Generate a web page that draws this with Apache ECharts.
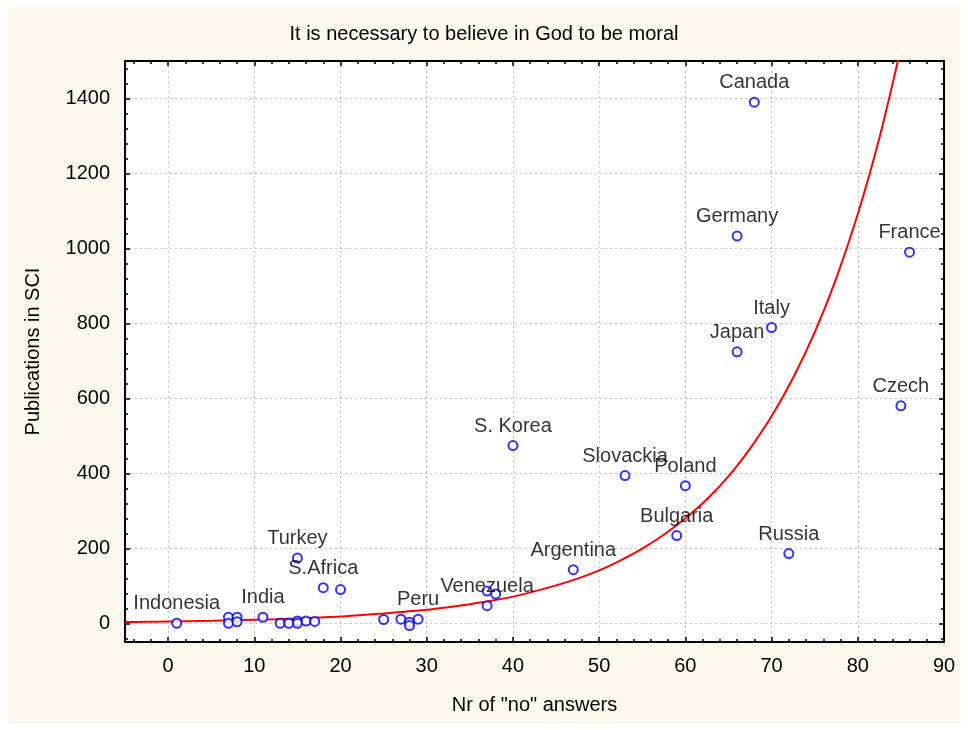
<!DOCTYPE html>
<html>
<head>
<meta charset="utf-8">
<script src="https://cdn.jsdelivr.net/npm/echarts@6/dist/echarts.min.js"></script>
<style>
  html, body { margin: 0; padding: 0; background: #ffffff; }
  #chart { width: 968px; height: 730px; }
</style>
</head>
<body>
<div id="chart"></div>
<script>
// ---- data ----
const chartTitle = 'It is necessary to believe in God to be moral';
const xAxisTitle = 'Nr of "no" answers';
const yAxisTitle = 'Publications in SCI';

const countryLabels = ['Indonesia', '', '', '', '', 'India', '', '', '', '', '', '', 'Turkey', 'S.Africa', '', '', '', '', '', 'Peru', '', '', 'Venezuela', 'Argentina', 'S. Korea', 'Slovackia', 'Poland', 'Bulgaria', 'Russia', 'Japan', 'Germany', 'Italy', 'Canada', 'France', 'Czech'];
const noAnswers = [1, 7, 7, 8, 8, 11, 13, 14, 15, 15, 16, 17, 15, 18, 20, 25, 27, 28, 28, 29, 37, 38, 37, 47, 40, 53, 60, 59, 72, 66, 66, 70, 68, 86, 85];
const publications = [0, 16, 0, 16, 4, 16, 0, 0, 6, 0, 6, 5, 174, 95, 90, 10, 11, 3, -6, 11, 86, 78, 47, 143, 474, 394, 367, 234, 186, 724, 1033, 789, 1390, 990, 580];

// fitted (exponential) curve, every 2.5 units
const fitX = [-5, -2.5, 0, 2.5, 5, 7.5, 10, 12.5, 15, 17.5, 20, 22.5, 25, 27.5, 30, 32.5, 35, 37.5, 40, 42.5, 45, 47.5, 50, 52.5, 55, 57.5, 60, 62.5, 65, 67.5, 70, 72.5, 75, 77.5, 80, 82.5, 85];
const fitY = [3.3, 3.9, 4.6, 5.5, 6.5, 7.7, 9.2, 11, 13, 15.4, 18, 22, 26, 31, 36, 43, 51, 60, 71, 85, 101, 119, 141, 168, 199, 236, 280, 331, 392, 466, 552, 655, 776, 920, 1092, 1294, 1535];

const xRange = [-5, 90];
const yRange = [-50, 1500];
const xTickLabels = [0, 10, 20, 30, 40, 50, 60, 70, 80, 90];
const yTickLabels = [0, 200, 400, 600, 800, 1000, 1200, 1400];

// ---- build ----
const pts = noAnswers.map((x, i) => ({ value: [x, publications[i]], name: countryLabels[i] }));
const curve = fitX.map((x, i) => [x, fitY[i]]);

const FONT = 'Liberation Sans, Arial, sans-serif';
const FS = 20;

function baseAxis(extra) {
  return Object.assign({
    type: 'value',
    axisLine: { show: true, onZero: false, lineStyle: { color: '#000', width: 2 } },
    axisTick: { show: true, inside: true, length: 5, lineStyle: { color: '#000', width: 1.5 } },
    minorTick: { show: true, splitNumber: 5, length: 3, lineStyle: { color: '#000', width: 1.5 } },
    splitLine: { show: false },
    axisLabel: { show: false }
  }, extra);
}

const chart = echarts.init(document.getElementById('chart'), null, { renderer: 'canvas' });
chart.setOption({
  backgroundColor: '#ffffff',
  animation: false,
  graphic: [{
    type: 'rect', z: -10, silent: true,
    shape: { x: 8, y: 7, width: 953, height: 717 },
    style: { fill: '#fcf8ed' }
  }],
  title: {
    text: chartTitle, left: 'center', top: 24, padding: 0,
    textStyle: { fontFamily: FONT, fontSize: FS, fontWeight: 'normal', color: '#000' }
  },
  grid: { left: 125, right: 24, top: 61, bottom: 88, show: true, backgroundColor: '#ffffff', borderWidth: 0 },
  xAxis: [
    baseAxis({
      position: 'bottom', min: xRange[0], max: xRange[1], splitNumber: 10,
      name: xAxisTitle, nameLocation: 'middle', nameGap: 53,
      nameTextStyle: { fontFamily: FONT, fontSize: FS, color: '#000' },
      axisLabel: {
        show: true, margin: 14, fontFamily: FONT, fontSize: FS, color: '#000',
        formatter: v => (xTickLabels.indexOf(v) >= 0 ? String(v) : '')
      },
      splitLine: { show: true, lineStyle: { color: '#c4c4c4', width: 1, type: [2, 3] } }
    }),
    baseAxis({ position: 'top', min: xRange[0], max: xRange[1], splitNumber: 10 })
  ],
  yAxis: [
    baseAxis({
      position: 'left', min: yRange[0], max: yRange[1], splitNumber: 8,
      name: yAxisTitle, nameLocation: 'middle', nameGap: 82,
      nameTextStyle: { fontFamily: FONT, fontSize: FS, color: '#000' },
      axisLabel: {
        show: true, margin: 15, fontFamily: FONT, fontSize: FS, color: '#000',
        formatter: v => (yTickLabels.indexOf(v) >= 0 ? String(v) : '')
      },
      splitLine: { show: true, lineStyle: { color: '#c4c4c4', width: 1, type: [2, 3] } }
    }),
    baseAxis({ position: 'right', min: yRange[0], max: yRange[1], splitNumber: 8 })
  ],
  series: [
    {
      type: 'line', xAxisIndex: 0, yAxisIndex: 0, data: curve,
      showSymbol: false, smooth: 0.3, clip: true,
      lineStyle: { color: '#ff0000', width: 2 }, z: 2
    },
    {
      type: 'scatter', xAxisIndex: 0, yAxisIndex: 0, data: pts,
      symbol: 'emptyCircle', symbolSize: 9,
      itemStyle: { color: '#0000ff', borderColor: '#0000ff', borderWidth: 2 },
      label: {
        show: true, position: 'top', distance: 4, offset: [-2, 0],
        formatter: p => p.name, fontFamily: FONT, fontSize: FS, color: '#000'
      },
      labelLayout: { hideOverlap: false },
      z: 3
    }
  ]
});
</script>
</body>
</html>
